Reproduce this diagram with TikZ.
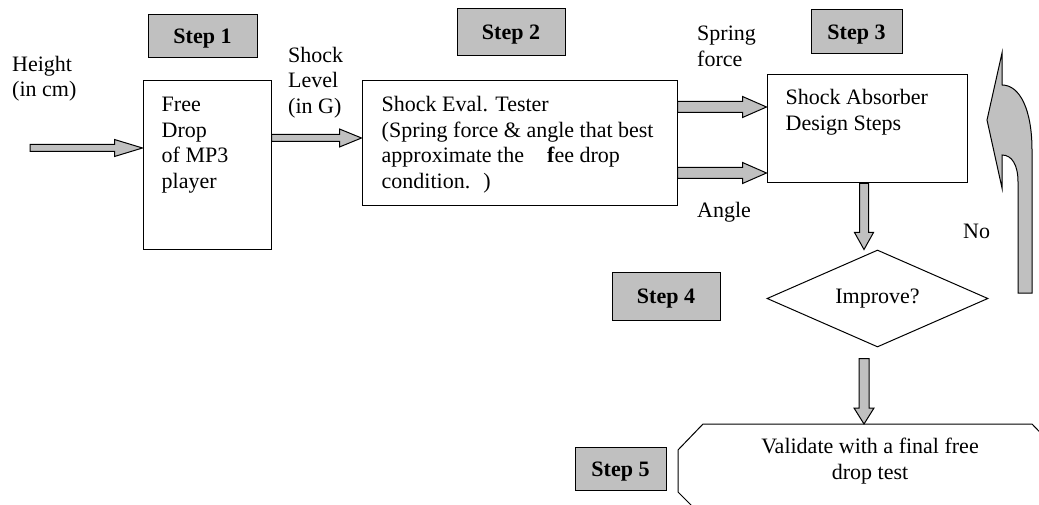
\documentclass[tikz,border=0pt]{standalone}
\usepackage{fontspec}
\setmainfont{Liberation Serif}
\usetikzlibrary{positioning,calc,shapes.geometric}

\definecolor{stepgray}{RGB}{192,192,192}

% block arrow to the right: start, tip, shaft half width, head half width, head length
\newcommand{\rightblock}[5]{%
  \draw[blockarrow] ($(#1)+(0,-#3)$) -- ($(#2)+(-#5,-#3)$) -- ($(#2)+(-#5,-#4)$)
    -- (#2) -- ($(#2)+(-#5,#4)$) -- ($(#2)+(-#5,#3)$) -- ($(#1)+(0,#3)$) -- cycle;
}
% block arrow downwards
\newcommand{\downblock}[5]{%
  \draw[blockarrow] ($(#1)+(-#3,0)$) -- ($(#2)+(-#3,-#5)$) -- ($(#2)+(-#4,-#5)$)
    -- (#2) -- ($(#2)+(#4,-#5)$) -- ($(#2)+(#3,-#5)$) -- ($(#1)+(#3,0)$) -- cycle;
}

\tikzset{
  txt/.style={inner sep=0pt, align=left, font=\fontsize{22}{25.5}\selectfont},
  box/.style={draw, line width=1pt, inner sep=0pt},
  stepbox/.style={draw, line width=1pt, fill=stepgray, inner sep=0pt,
    text height=15pt, text depth=0pt, font=\fontsize{22}{25.5}\selectfont\bfseries},
  blockarrow/.style={draw, line width=1pt, fill=stepgray, line join=miter},
}

\begin{document}
\begin{tikzpicture}[x=1pt, y=-1pt]
  \useasboundingbox (0,0) rectangle (1039,505);
  \clip (0,0) rectangle (1039,505);

  % step labels
  \node[stepbox, minimum width=109pt, minimum height=43pt] (step1) at (202.5,36.5) {Step 1};
  \node[stepbox, minimum width=108pt, minimum height=47pt] (step2) at (511,32.5) {Step 2};
  \node[stepbox, minimum width=91pt, minimum height=44pt] (step3) at (856.5,32) {Step 3};
  \node[stepbox, minimum width=108pt, minimum height=48pt] (step4) at (666,296) {Step 4};
  \node[stepbox, minimum width=91pt, minimum height=43pt] (step5) at (620.5,468.5) {Step 5};

  % process boxes
  \node[box, minimum width=128pt, minimum height=169pt] (drop) at (207,165.5) {};
  \node[box, minimum width=315pt, minimum height=125pt] (eval) at (519.5,143.5) {};
  \node[box, minimum width=200pt, minimum height=108pt] (absorb) at (867,129) {};
  \node[draw, line width=1pt, diamond, aspect=2.2, inner sep=0pt,
    minimum width=221pt, minimum height=97pt,
    font=\fontsize{22}{25.5}\selectfont] (improve) at (877.5,298.5) {Improve?};
  \draw[line width=1pt] (703,424) -- (1032,424) -- (1057,450) -- (1057,492)
    -- (1032,517) -- (703,517) -- (678,492) -- (678,450) -- cycle;

  \node[txt, below right=16.6pt and 19pt of drop.north west] (droptxt) {Free\\Drop\\of MP3\\player};
  \node[txt, below right=16pt and 20pt of eval.north west] (evaltxt)
    {Shock Eval. Tester\\(Spring force \& angle that best\\approximate the\hspace{23pt}\textbf{f}ee drop\\condition.\hspace{13pt})};
  \node[txt, below right=15pt and 19pt of absorb.north west] (absorbtxt) {Shock Absorber\\Design Steps};
  \node[txt, align=center, anchor=north] (valtxt) at (870,438) {Validate with a final free\\drop test};

  % free labels
  \node[txt, anchor=north west] (height) at (12,56) {Height\\(in cm)};
  \node[txt, anchor=north west] (level) at (288,47) {Shock\\Level\\(in G)};
  \node[txt, anchor=north west] (spring) at (697,26) {Spring\\force};
  \node[txt, anchor=north west] (angle) at (697,202) {Angle};
  \node[txt, anchor=north west] (no) at (963,223.6) {No};

  % arrows
  \coordinate (hin) at (30,148);
  \coordinate (improut) at ($(improve.south -| 864,0)+(0,11)$);
  \coordinate (octtop) at (864,424);
  \rightblock{hin}{hin -| drop.west}{3.5}{8.5}{28}
  \rightblock{drop.east |- 0,138}{eval.west |- 0,138}{3.5}{9}{22}
  \rightblock{eval.east |- 0,107}{absorb.west |- 0,107}{5.5}{10.5}{24}
  \rightblock{eval.east |- 0,173}{absorb.west |- 0,173}{5.5}{10.5}{24}
  \downblock{absorb.south -| 864,0}{improve.north -| 864,0}{4.5}{9.5}{17}
  \downblock{improut}{octtop}{5}{10}{16}

  % curved "No" arrow back up
  \draw[blockarrow] (1032,293) -- (1032,150) .. controls (1032,110) and (1020,85) .. (1002,85)
    -- (1002,53) -- (987,120) -- (1002,188) -- (1002,155)
    .. controls (1012,155) and (1018,165) .. (1018,182) -- (1018,293) -- cycle;
\end{tikzpicture}
\end{document}
